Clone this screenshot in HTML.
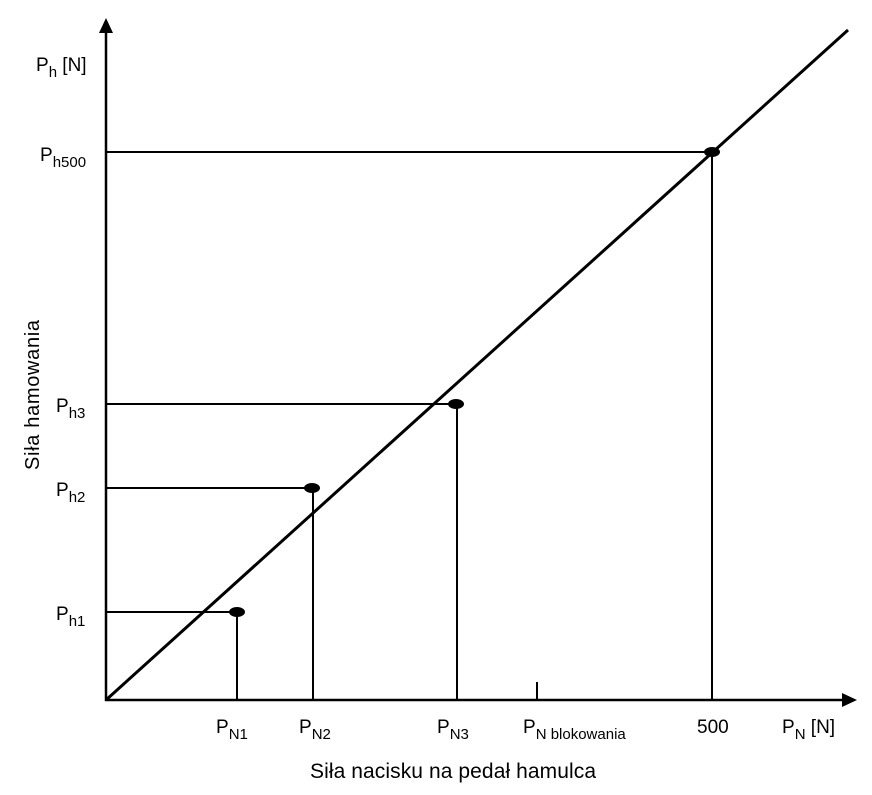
<!DOCTYPE html>
<html><head><meta charset="utf-8"><style>
body{margin:0;background:#fff}
svg text{font-family:"Liberation Sans",sans-serif;fill:#000}
</style></head><body>
<svg width="872" height="790" viewBox="0 0 872 790" xmlns="http://www.w3.org/2000/svg">
<g stroke="#000" stroke-width="2.5" fill="none">
<line x1="106" y1="30" x2="106" y2="701"/>
<line x1="105" y1="700" x2="845" y2="700"/>
</g>
<polygon points="106,18 99,33 113,33" fill="#000"/>
<polygon points="857,700 842,693 842,707" fill="#000"/>
<line x1="106" y1="700" x2="848" y2="30" stroke="#000" stroke-width="3"/>
<g stroke="#000" stroke-width="2" fill="none">
<line x1="106" y1="152" x2="712" y2="152"/><line x1="712" y1="152" x2="712" y2="700"/>
<line x1="106" y1="404" x2="457" y2="404"/><line x1="457" y1="404" x2="457" y2="700"/>
<line x1="106" y1="488" x2="313" y2="488"/><line x1="313" y1="488" x2="313" y2="700"/>
<line x1="106" y1="612" x2="237" y2="612"/><line x1="237" y1="612" x2="237" y2="700"/>
<line x1="537" y1="682" x2="537" y2="700"/>
</g>
<g fill="#000">
<ellipse cx="712" cy="152" rx="8" ry="5"/>
<ellipse cx="456" cy="404" rx="8" ry="5"/>
<ellipse cx="312" cy="488" rx="8" ry="5"/>
<ellipse cx="237" cy="612" rx="8" ry="5"/>
</g>
<g font-size="19">
<text x="36" y="71">P<tspan font-size="15" dy="6">h</tspan><tspan dy="-6"> [N]</tspan></text>
<text x="40" y="161">P<tspan font-size="15" dy="6">h500</tspan></text>
<text x="56" y="412">P<tspan font-size="15" dy="6">h3</tspan></text>
<text x="56" y="496">P<tspan font-size="15" dy="6">h2</tspan></text>
<text x="56" y="620">P<tspan font-size="15" dy="6">h1</tspan></text>
<text x="216" y="733">P<tspan font-size="15" dy="6">N1</tspan></text>
<text x="299" y="733">P<tspan font-size="15" dy="6">N2</tspan></text>
<text x="437" y="733">P<tspan font-size="15" dy="6">N3</tspan></text>
<text x="523" y="733">P<tspan font-size="15" dy="6">N blokowania</tspan></text>
<text x="697" y="733">500</text>
<text x="782" y="733">P<tspan font-size="15" dy="6">N</tspan><tspan dy="-6"> [N]</tspan></text>
</g>
<text x="310" y="778" font-size="21" textLength="286">Siła nacisku na pedał hamulca</text>
<text transform="translate(39,470) rotate(-90)" font-size="20" textLength="150">Siła hamowania</text>
</svg>
</body></html>
